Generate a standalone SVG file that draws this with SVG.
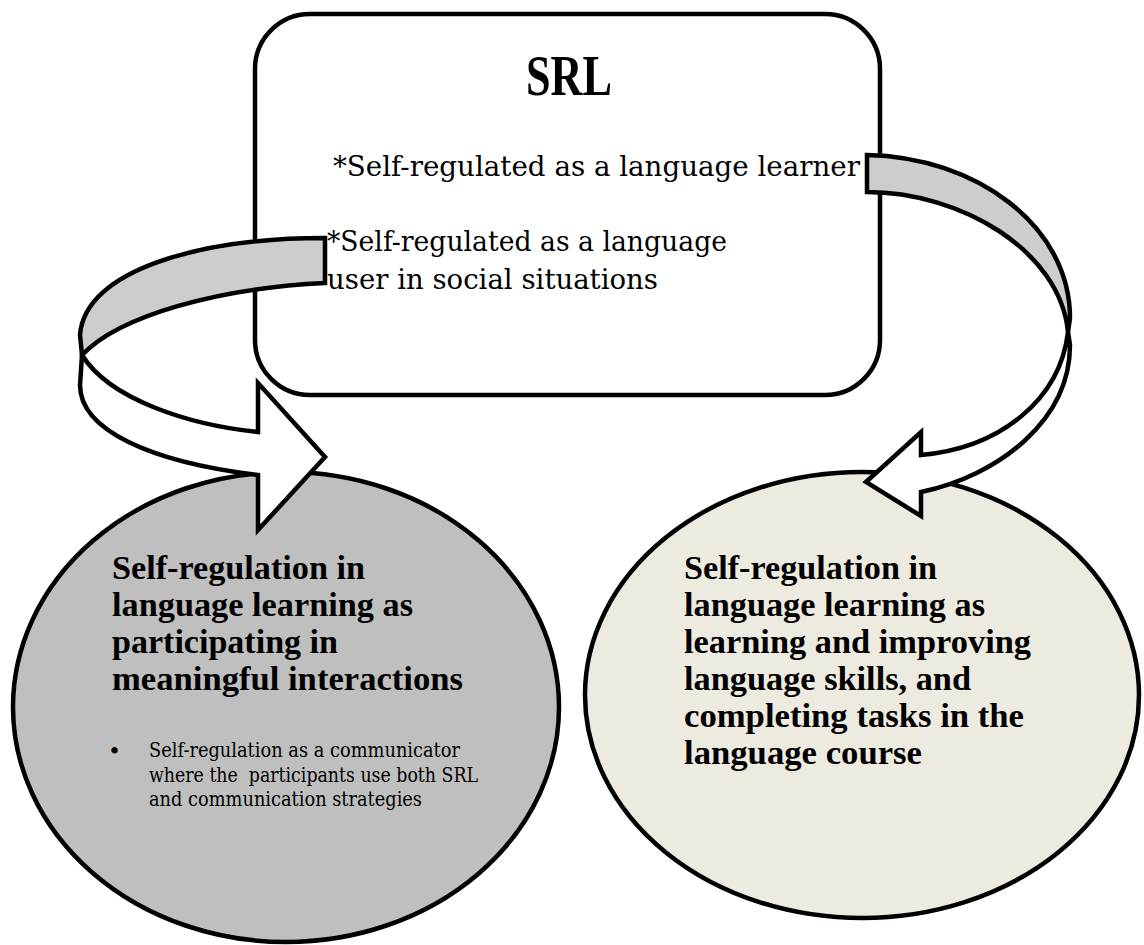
<svg xmlns="http://www.w3.org/2000/svg" width="1144" height="945" viewBox="0 0 1144 945">
<style>
.edge{stroke:#000;stroke-width:4.5;stroke-linejoin:miter}
.t{font-family:"Liberation Serif","Times New Roman",serif;fill:#000}
.r{font-family:"DejaVu Serif","Liberation Serif",serif;fill:#000}
.b{font-weight:bold;font-size:33px}
.m{font-size:27px}
.s{font-size:21px}
.band{fill:#CDCDCD}
.front{fill:#FFFFFF}
</style>
<rect width="1144" height="945" fill="#FFFFFF"/>
<g id="srl-box">
<rect class="edge" x="255" y="14" width="625" height="381" rx="55" ry="55" fill="#FFFFFF"/>
<text class="t" x="526" y="95" font-size="56" font-weight="bold" textLength="86" lengthAdjust="spacingAndGlyphs">SRL</text>
<text class="r m" x="333" y="176" textLength="527" lengthAdjust="spacingAndGlyphs">*Self-regulated as a language learner</text>
<text class="r m" x="327" y="251" textLength="400" lengthAdjust="spacingAndGlyphs">*Self-regulated as a language</text>
<text class="r m" x="327" y="289" textLength="331" lengthAdjust="spacingAndGlyphs">user in social situations</text>
</g>
<g id="interactions">
<ellipse class="edge" cx="286" cy="707" rx="273" ry="235" fill="#BFBFBF"/>
<text class="t b" x="112" y="579" textLength="253" lengthAdjust="spacingAndGlyphs">Self-regulation in</text>
<text class="t b" x="112" y="616" textLength="301" lengthAdjust="spacingAndGlyphs">language learning as</text>
<text class="t b" x="112" y="653" textLength="226" lengthAdjust="spacingAndGlyphs">participating in</text>
<text class="t b" x="112" y="690" textLength="351" lengthAdjust="spacingAndGlyphs">meaningful interactions</text>
<text class="r" x="108" y="759" font-size="22">•</text>
<text class="r s" x="149" y="757" textLength="311" lengthAdjust="spacingAndGlyphs">Self-regulation as a communicator</text>
<text class="r s" x="149" y="782" textLength="329" lengthAdjust="spacingAndGlyphs" xml:space="preserve">where the  participants use both SRL</text>
<text class="r s" x="149" y="806" textLength="273" lengthAdjust="spacingAndGlyphs">and communication strategies</text>
</g>
<g id="skills">
<ellipse class="edge" cx="862" cy="695" rx="277" ry="223" fill="#EDEBE0"/>
<text class="t b" x="684" y="579" textLength="253" lengthAdjust="spacingAndGlyphs">Self-regulation in</text>
<text class="t b" x="684" y="616" textLength="301" lengthAdjust="spacingAndGlyphs">language learning as</text>
<text class="t b" x="684" y="653" textLength="347" lengthAdjust="spacingAndGlyphs">learning and improving</text>
<text class="t b" x="684" y="690" textLength="287" lengthAdjust="spacingAndGlyphs">language skills, and</text>
<text class="t b" x="684" y="727" textLength="340" lengthAdjust="spacingAndGlyphs">completing tasks in the</text>
<text class="t b" x="684" y="764" textLength="238" lengthAdjust="spacingAndGlyphs">language course</text>
</g>
<g id="connectors">
<g id="arrow-left">
<path class="edge band" d="M325,238 C200,238 85,270 80,335 L82,355 C120,315 220,288 325,283 Z"/>
<path class="edge front" d="M82,355 C110,400 190,425 258,432 L258,383 L325,457 L258,530 L258,475 C150,462 80,430 80,385 Z"/>
</g>
<g id="arrow-right">
<path class="edge band" d="M867,155 C975,157 1070,225 1070,318 L1068,332 C1060,250 960,192 867,192 Z"/>
<path class="edge front" d="M1068,332 C1060,400 1000,448 921,455 L921,432 L866,482 L921,516 L921,492 C1000,475 1070,420 1070,345 Z"/>
</g>
</g>
</svg>
